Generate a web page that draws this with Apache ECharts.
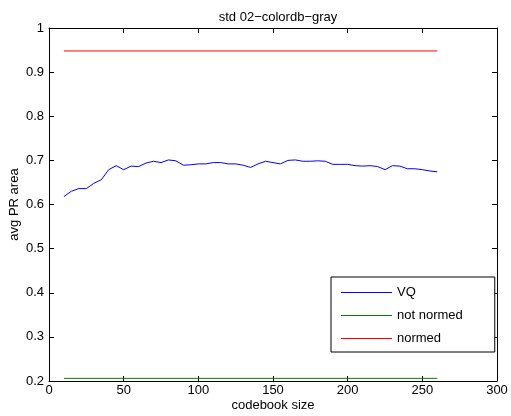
<!DOCTYPE html>
<html>
<head>
<meta charset="utf-8">
<script src="https://cdn.jsdelivr.net/npm/echarts@6/dist/echarts.min.js"></script>
<style>
  html, body { margin: 0; padding: 0; background: #fff; }
  #chart { width: 511px; height: 416px; }
</style>
</head>
<body>
<div id="chart"></div>
<script>
// codebook sizes sampled for the VQ curve
const codebookSizes = [10, 15, 20, 25, 30, 35, 40, 45, 50, 55, 60, 65, 70, 75, 80, 85, 90, 95, 100,
  105, 110, 115, 120, 125, 130, 135, 140, 145, 150, 155, 160, 165, 170, 175, 180, 185, 190, 195, 200,
  205, 210, 215, 220, 225, 230, 235, 240, 245, 250, 255, 260];
const vqValues = [0.618, 0.630, 0.636, 0.636, 0.648, 0.656, 0.679, 0.688, 0.679, 0.687, 0.686, 0.694,
  0.698, 0.695, 0.701, 0.699, 0.689, 0.690, 0.692, 0.692, 0.695, 0.695, 0.692, 0.692, 0.689, 0.684,
  0.692, 0.698, 0.695, 0.692, 0.700, 0.701, 0.698, 0.698, 0.699, 0.698, 0.691, 0.691, 0.691, 0.688,
  0.687, 0.688, 0.686, 0.679, 0.688, 0.687, 0.681, 0.681, 0.679, 0.676, 0.674];
// flat reference lines (end points only)
const flatSizes = [10, 260];
const notNormedValues = [0.206, 0.206];
const normedValues = [0.948, 0.948];

const seriesNames = ['VQ', 'not normed', 'normed'];
const seriesColors = ['#0000ff', '#008000', '#ff0000'];

const font = 'Liberation Sans, Arial, Helvetica, sans-serif';
const zip = (xs, ys) => xs.map((x, i) => [x, ys[i]]);

const chart = echarts.init(document.getElementById('chart'));

const baseAxis = {
  axisLine: { show: true, onZero: false, lineStyle: { color: '#000', width: 1 } },
  axisTick: { show: true, inside: true, length: 5, lineStyle: { color: '#000' } },
  splitLine: { show: false },
};

chart.setOption({
  animation: false,
  backgroundColor: '#fff',
  title: {
    text: 'std 02\u2212colordb\u2212gray',
    left: 273,
    top: 6,
    textAlign: 'center',
    textStyle: { fontFamily: font, fontSize: 13, fontWeight: 'normal', color: '#000' },
  },
  grid: { left: 49, right: 14, top: 28, bottom: 35, outerBoundsMode: 'none', containLabel: false },
  legend: {
    data: seriesNames,
    orient: 'vertical',
    left: 331,
    top: 277,
    // thin horizontal stroke, padded to a 51x14 box
    icon: 'path://M0,0M0,7H51V8H0ZM51,14',
    itemWidth: 51,
    itemHeight: 14,
    itemGap: 9,
    padding: [8, 32, 7, 10],
    borderColor: '#000',
    borderWidth: 1,
    backgroundColor: '#fff',
    textStyle: { fontFamily: font, fontSize: 13, color: '#000' },
  },
  xAxis: [
    {
      ...baseAxis,
      type: 'value',
      min: 0,
      max: 300,
      interval: 50,
      name: 'codebook size',
      nameLocation: 'middle',
      nameGap: 18,
      nameMoveOverlap: false,
      nameTextStyle: { fontFamily: font, fontSize: 13, color: '#000' },
      axisLabel: { fontFamily: font, fontSize: 13, color: '#000', margin: 3 },
    },
    {
      ...baseAxis,
      type: 'value',
      position: 'top',
      min: 0,
      max: 300,
      interval: 50,
      axisLabel: { show: false },
    },
  ],
  yAxis: [
    {
      ...baseAxis,
      type: 'value',
      min: 0.2,
      max: 1,
      interval: 0.1,
      name: 'avg PR area',
      nameLocation: 'middle',
      nameGap: 28,
      nameMoveOverlap: false,
      nameTextStyle: { fontFamily: font, fontSize: 13, color: '#000' },
      axisLabel: {
        fontFamily: font, fontSize: 13, color: '#000', margin: 5,
        formatter: (v) => String(Math.round(v * 10) / 10),
      },
    },
    {
      ...baseAxis,
      type: 'value',
      position: 'right',
      min: 0.2,
      max: 1,
      interval: 0.1,
      axisLabel: { show: false },
    },
  ],
  series: [
    {
      name: seriesNames[0],
      type: 'line',
      data: zip(codebookSizes, vqValues),
      showSymbol: false,
      symbol: 'none',
      color: seriesColors[0],
      lineStyle: { color: seriesColors[0], width: 1 },
      itemStyle: { color: seriesColors[0] },
    },
    {
      name: seriesNames[1],
      type: 'line',
      data: zip(flatSizes, notNormedValues),
      symbol: 'none',
      color: seriesColors[1],
      lineStyle: { color: seriesColors[1], width: 1 },
      itemStyle: { color: seriesColors[1] },
    },
    {
      name: seriesNames[2],
      type: 'line',
      data: zip(flatSizes, normedValues),
      symbol: 'none',
      color: seriesColors[2],
      lineStyle: { color: seriesColors[2], width: 1 },
      itemStyle: { color: seriesColors[2] },
    },
  ],
});
</script>
</body>
</html>
